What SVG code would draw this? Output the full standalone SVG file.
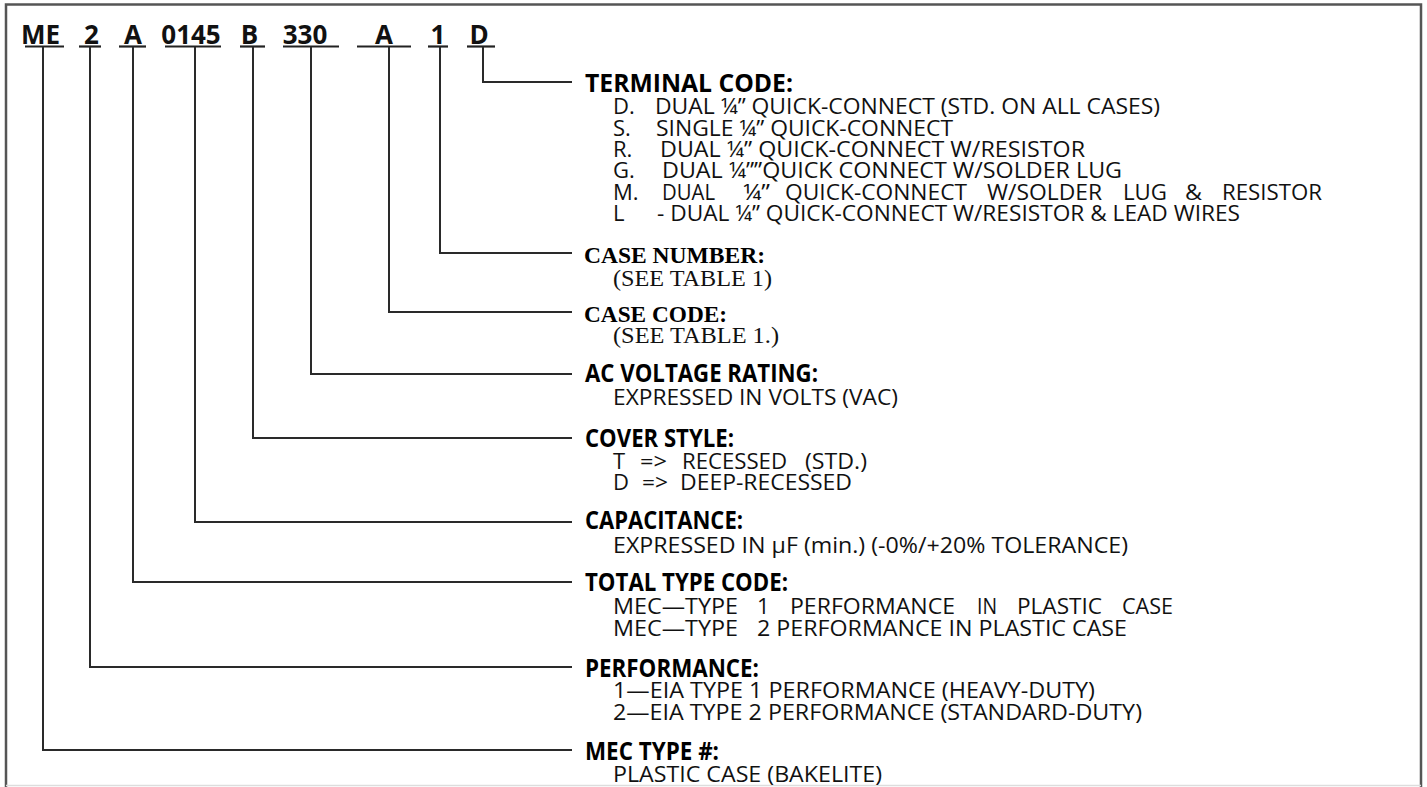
<svg xmlns="http://www.w3.org/2000/svg" width="1427" height="787" viewBox="0 0 1427 787">
<style>
.frame{fill:none;stroke:#555;stroke-width:2.5}
.conn{fill:none;stroke:#2a2a2a;stroke-width:2}
.ul{stroke:#222;stroke-width:2.2}
.code{font-family:"Open Sans","Liberation Sans",sans-serif;font-weight:bold;font-size:26px;fill:#111;text-anchor:middle}
.hd{font-family:"Open Sans","Liberation Sans",sans-serif;font-weight:bold;font-size:25px;fill:#000}
.tx{font-family:"Open Sans","Liberation Sans",sans-serif;font-size:22px;fill:#111}
.hds{font-family:"Liberation Serif","Times New Roman",serif;font-weight:bold;font-size:24px;fill:#000}
.txs{font-family:"Liberation Serif","Times New Roman",serif;font-size:24px;fill:#111}
</style>
<rect x="0" y="0" width="1427" height="787" fill="#fff"/>
<path class="frame" d="M6 787 V4.5 H1421 V787"/>
<line x1="6" y1="785.5" x2="1421" y2="785.5" stroke="#ddd" stroke-width="1.5"/>

<g id="code">
<text class="code" x="40.5" y="44">ME</text>
<text class="code" x="91.5" y="44">2</text>
<text class="code" x="133" y="44">A</text>
<text class="code" x="191" y="44">0145</text>
<text class="code" x="249.5" y="44">B</text>
<text class="code" x="305" y="44">330</text>
<text class="code" x="384" y="44">A</text>
<text class="code" x="438" y="44">1</text>
<text class="code" x="479" y="44">D</text>
<line class="ul" x1="25" y1="46.5" x2="64" y2="46.5"/>
<line class="ul" x1="79" y1="46.5" x2="101" y2="46.5"/>
<line class="ul" x1="119" y1="46.5" x2="146" y2="46.5"/>
<line class="ul" x1="165" y1="46.5" x2="221" y2="46.5"/>
<line class="ul" x1="240" y1="46.5" x2="265" y2="46.5"/>
<line class="ul" x1="283" y1="46.5" x2="339" y2="46.5"/>
<line class="ul" x1="357" y1="46.5" x2="411" y2="46.5"/>
<line class="ul" x1="428" y1="46.5" x2="448" y2="46.5"/>
<line class="ul" x1="467" y1="46.5" x2="495" y2="46.5"/>
</g>

<g id="connectors">
<path class="conn" d="M483 47 V82 H572"/>
<path class="conn" d="M440 47 V253 H572"/>
<path class="conn" d="M389 47 V312 H572"/>
<path class="conn" d="M311 47 V374 H572"/>
<path class="conn" d="M253 47 V438 H572"/>
<path class="conn" d="M195 47 V522 H572"/>
<path class="conn" d="M133 47 V582 H572"/>
<path class="conn" d="M90 47 V667 H572"/>
<path class="conn" d="M43 47 V750 H572"/>
</g>

<g id="terminal-code">
<text class="hd" x="585" y="92" textLength="208" lengthAdjust="spacingAndGlyphs">TERMINAL CODE:</text>
<text class="tx" y="114"><tspan x="613">D.</tspan><tspan x="655" textLength="505" lengthAdjust="spacingAndGlyphs">DUAL ¼” QUICK-CONNECT (STD. ON ALL CASES)</tspan></text>
<text class="tx" y="135.5"><tspan x="613">S.</tspan><tspan x="656" textLength="297" lengthAdjust="spacingAndGlyphs">SINGLE ¼” QUICK-CONNECT</tspan></text>
<text class="tx" y="157"><tspan x="613">R.</tspan><tspan x="660" textLength="425" lengthAdjust="spacingAndGlyphs">DUAL ¼” QUICK-CONNECT W/RESISTOR</tspan></text>
<text class="tx" y="178.3"><tspan x="613">G.</tspan><tspan x="662" textLength="460" lengthAdjust="spacingAndGlyphs">DUAL ¼””QUICK CONNECT W/SOLDER LUG</tspan></text>
<text class="tx" y="199.6"><tspan x="613">M.</tspan><tspan x="662" textLength="53" lengthAdjust="spacingAndGlyphs">DUAL</tspan><tspan x="743" textLength="27" lengthAdjust="spacingAndGlyphs">¼”</tspan><tspan x="785" textLength="182" lengthAdjust="spacingAndGlyphs">QUICK-CONNECT</tspan><tspan x="987" textLength="115" lengthAdjust="spacingAndGlyphs">W/SOLDER</tspan><tspan x="1123" textLength="44" lengthAdjust="spacingAndGlyphs">LUG</tspan><tspan x="1185" textLength="17" lengthAdjust="spacingAndGlyphs">&amp;</tspan><tspan x="1222" textLength="100" lengthAdjust="spacingAndGlyphs">RESISTOR</tspan></text>
<text class="tx" y="221"><tspan x="613">L</tspan><tspan x="657" textLength="583" lengthAdjust="spacingAndGlyphs">- DUAL ¼” QUICK-CONNECT W/RESISTOR &amp; LEAD WIRES</tspan></text>
</g>

<g id="case-number">
<text class="hds" x="584" y="263" textLength="181" lengthAdjust="spacingAndGlyphs">CASE NUMBER:</text>
<text class="txs" x="613" y="286" textLength="159" lengthAdjust="spacingAndGlyphs">(SEE TABLE 1)</text>
</g>

<g id="case-code">
<text class="hds" x="584" y="322" textLength="143" lengthAdjust="spacingAndGlyphs">CASE CODE:</text>
<text class="txs" x="613" y="343" textLength="166" lengthAdjust="spacingAndGlyphs">(SEE TABLE 1.)</text>
</g>

<g id="ac-voltage">
<text class="hd" x="585" y="382" textLength="233" lengthAdjust="spacingAndGlyphs">AC VOLTAGE RATING:</text>
<text class="tx" x="613" y="405" textLength="285" lengthAdjust="spacingAndGlyphs">EXPRESSED IN VOLTS (VAC)</text>
</g>

<g id="cover-style">
<text class="hd" x="585" y="447" textLength="149" lengthAdjust="spacingAndGlyphs">COVER STYLE:</text>
<text class="tx" y="469"><tspan x="613">T</tspan><tspan x="640" textLength="27" lengthAdjust="spacingAndGlyphs">=&gt;</tspan><tspan x="682" textLength="105" lengthAdjust="spacingAndGlyphs">RECESSED</tspan><tspan x="805" textLength="62" lengthAdjust="spacingAndGlyphs">(STD.)</tspan></text>
<text class="tx" y="490"><tspan x="613">D</tspan><tspan x="642" textLength="26" lengthAdjust="spacingAndGlyphs">=&gt;</tspan><tspan x="680" textLength="172" lengthAdjust="spacingAndGlyphs">DEEP-RECESSED</tspan></text>
</g>

<g id="capacitance">
<text class="hd" x="585" y="529" textLength="158" lengthAdjust="spacingAndGlyphs">CAPACITANCE:</text>
<text class="tx" x="613" y="553" textLength="515" lengthAdjust="spacingAndGlyphs">EXPRESSED IN µF (min.) (-0%/+20% TOLERANCE)</text>
</g>

<g id="total-type-code">
<text class="hd" x="585" y="591" textLength="203" lengthAdjust="spacingAndGlyphs">TOTAL TYPE CODE:</text>
<text class="tx" y="614"><tspan x="613" textLength="125" lengthAdjust="spacingAndGlyphs">MEC—TYPE</tspan><tspan x="757">1</tspan><tspan x="790" textLength="165" lengthAdjust="spacingAndGlyphs">PERFORMANCE</tspan><tspan x="977" textLength="20" lengthAdjust="spacingAndGlyphs">IN</tspan><tspan x="1017" textLength="85" lengthAdjust="spacingAndGlyphs">PLASTIC</tspan><tspan x="1122" textLength="51" lengthAdjust="spacingAndGlyphs">CASE</tspan></text>
<text class="tx" y="636"><tspan x="613" textLength="125" lengthAdjust="spacingAndGlyphs">MEC—TYPE</tspan><tspan x="757" textLength="370" lengthAdjust="spacingAndGlyphs">2 PERFORMANCE IN PLASTIC CASE</tspan></text>
</g>

<g id="performance">
<text class="hd" x="585" y="677" textLength="174" lengthAdjust="spacingAndGlyphs">PERFORMANCE:</text>
<text class="tx" x="613" y="698" textLength="482" lengthAdjust="spacingAndGlyphs">1—EIA TYPE 1 PERFORMANCE (HEAVY-DUTY)</text>
<text class="tx" x="613" y="720" textLength="529" lengthAdjust="spacingAndGlyphs">2—EIA TYPE 2 PERFORMANCE (STANDARD-DUTY)</text>
</g>

<g id="mec-type">
<text class="hd" x="585" y="760" textLength="134" lengthAdjust="spacingAndGlyphs">MEC TYPE #:</text>
<text class="tx" x="613" y="782" textLength="269" lengthAdjust="spacingAndGlyphs">PLASTIC CASE (BAKELITE)</text>
</g>
</svg>
